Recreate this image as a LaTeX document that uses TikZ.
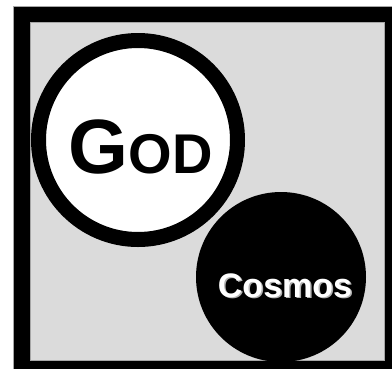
\documentclass[tikz,border=0pt]{standalone}
\usepackage{fontspec}
\setmainfont{Liberation Sans}
\begin{document}
\begin{tikzpicture}[x=1pt,y=-1pt,
  frame/.style={fill=black,draw=gray!70,line width=0.6pt},
  panel/.style={fill=gray!28,draw=gray!70,line width=0.6pt},
  godring/.style={circle,draw=black,fill=white,line width=15pt,minimum size=199pt,inner sep=0pt},
  cosmosdisc/.style={circle,fill=black,minimum size=170pt,inner sep=0pt},
  label/.style={inner sep=0pt,anchor=base}]
\useasboundingbox (0,0) rectangle (392,368);
\fill[white] (0,0) rectangle (392,368);
\path[frame] (13.3,6.7) rectangle (394,370);
\path[panel] (30,22.7) rectangle (384.5,360.5);
\node[godring] (god) at (138,140) {};
\node[cosmosdisc] (cosmos) at (281,277) {};
\node[label] (godtext) at (140.5,173) {\bfseries{\fontsize{77}{77}\selectfont G}{\fontsize{56}{56}\selectfont OD}};
\node[label,text=gray!60] (cosmosshadow) at (286.5,298.5) {\bfseries\fontsize{34}{34}\selectfont Cosmos};
\node[label,text=white] (cosmostext) at (285,297) {\bfseries\fontsize{34}{34}\selectfont Cosmos};
\end{tikzpicture}
\end{document}
